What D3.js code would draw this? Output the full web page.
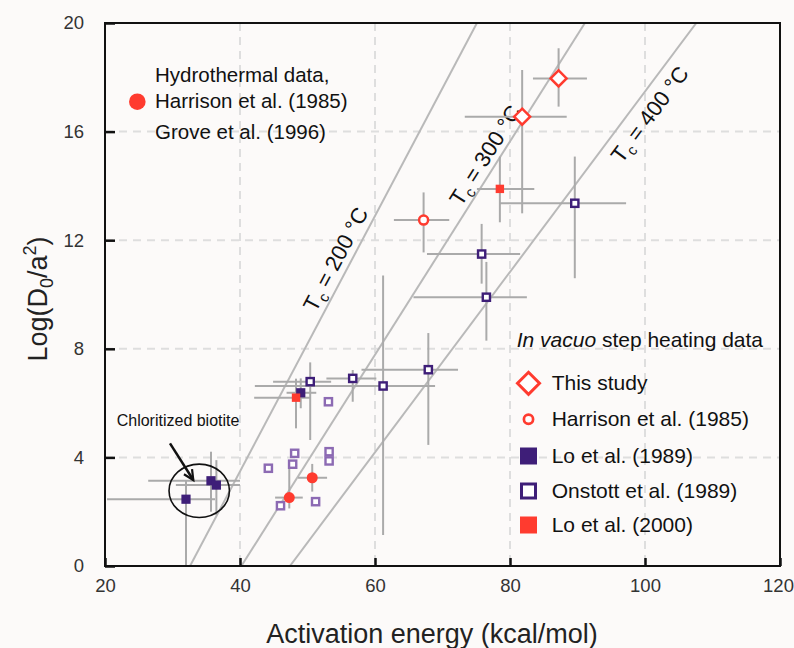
<!DOCTYPE html>
<html><head><meta charset="utf-8">
<script src="https://cdn.jsdelivr.net/npm/d3@7"></script>
<style>
html,body{margin:0;padding:0;background:#fcfaf9;}
svg{display:block;font-family:"Liberation Sans",Arial,sans-serif;}
</style></head>
<body><svg id="c" width="794" height="648"></svg>
<script>
// ---- data: [E, logD, Emin, Emax, logDmin, logDmax]
const thisStudy = [[87.2,17.96,83.4,91.4,16.92,19.07],[81.8,16.55,73.3,88.4,12.99,18.27]];
const harrisonVacuo = [[67.2,12.74,62.8,71.0,11.55,13.76]];
const lo1989 = [[32.0,2.46,20.3,36.3,0,3.17],[35.7,3.14,26.4,40.0,2.0,4.21],[36.5,2.98,30.5,40.0,1.88,3.9],[49.0,6.38,46.9,51.3,5.81,6.91]];
const onstott = [[50.4,6.79,44.9,53.5,4.64,7.5],[56.7,6.91,52.8,60.2,6.05,7.22],[61.2,6.63,42.2,68.9,1.14,10.7],[67.9,7.23,58.0,72.3,4.46,8.58],[75.8,11.49,67.7,81.5,10.4,12.6],[76.5,9.9,65.7,82.5,8.3,11.2],[89.6,13.36,78.5,97.2,10.6,15.08]];
const onstottLight = [[53.1,6.05],[48.1,4.15],[47.8,3.75],[44.2,3.6],[53.2,4.21],[53.2,3.87],[46.0,2.22],[51.2,2.37]];
const lo2000 = [[48.3,6.2,42.1,50.5,5.07,6.9],[78.5,13.89,75.1,83.6,12.66,15.08]];
const hydrothermal = [[47.3,2.52,45.2,49.3,2.12,3.68],[50.7,3.25,48.6,52.9,2.74,3.76]];
// closure temperature lines: E at logD=0 and logD=20
const tcLines = [{t:"200",e0:32.6,e1:75.1,ly:11.05,off:-7},{t:"300",e0:40.2,e1:91.1,ly:14.86,off:-6},{t:"400",e0:47.4,e1:107.6,ly:17.02,off:25}];
const xTicks = [20,40,60,80,100,120];
const yTicks = [0,4,8,12,16,20];
const xGrid = [40,60,80,100];
const yGrid = [4,8,12,16];
const legendItems = ["This study","Harrison et al. (1985)","Lo et al. (1989)","Onstott et al. (1989)","Lo et al. (2000)"];

const RED="#ff3b2f", PURP="#3e1e78", LPURP="#8c6ab3", GREY="#aaaaaa";
const svg=d3.select("#c");
const L=105,R=780,T=23,B=566;
const x=d3.scaleLinear([20,120],[L,R]);
const y=d3.scaleLinear([0,20],[B,T]);

svg.append("defs").append("clipPath").attr("id","clip").append("rect").attr("x",L).attr("y",T).attr("width",R-L).attr("height",B-T);

// grid
const g=svg.append("g");
g.selectAll(".gx").data(xGrid).join("line").attr("x1",d=>x(d)).attr("x2",d=>x(d)).attr("y1",T).attr("y2",B)
 .attr("stroke","#dedede").attr("stroke-width",2).attr("stroke-dasharray","8,6");
g.selectAll(".gy").data(yGrid).join("line").attr("y1",d=>y(d)).attr("y2",d=>y(d)).attr("x1",L).attr("x2",R)
 .attr("stroke","#dedede").attr("stroke-width",2).attr("stroke-dasharray","8,6");

// Tc lines
const tl=svg.append("g").attr("clip-path","url(#clip)");
tl.selectAll("line").data(tcLines).join("line")
 .attr("x1",d=>x(d.e0)).attr("y1",y(0)).attr("x2",d=>x(d.e1)).attr("y2",y(20))
 .attr("stroke","#b9b9b9").attr("stroke-width",2);

// Tc labels
tcLines.forEach(d=>{
  const px=x(d.e0+(d.e1-d.e0)*d.ly/20), py=y(d.ly);
  const ang=Math.atan2(y(20)-y(0), x(d.e1)-x(d.e0))*180/Math.PI;
  const t=svg.append("text").attr("transform",`translate(${px},${py}) rotate(${ang})`)
    .attr("y",d.off).attr("text-anchor","middle").attr("font-size",22).attr("fill","#111");
  t.append("tspan").text("T");
  t.append("tspan").attr("font-size",15).attr("dy",5).text("c");
  t.append("tspan").attr("dy",-5).text(" = "+d.t+" °C");
});

// error bars
const eb=svg.append("g").attr("stroke",GREY).attr("stroke-width",2).attr("clip-path","url(#clip)");
const allErr=[].concat(hydrothermal,lo1989,onstott,lo2000,harrisonVacuo,thisStudy);
allErr.forEach(d=>{
  eb.append("line").attr("x1",x(d[2])).attr("x2",x(d[3])).attr("y1",y(d[1])).attr("y2",y(d[1]));
  eb.append("line").attr("x1",x(d[0])).attr("x2",x(d[0])).attr("y1",y(d[4])).attr("y2",y(d[5]));
});

// markers
const m=svg.append("g");
m.selectAll(".ol").data(onstottLight).join("rect").attr("x",d=>x(d[0])-3.6).attr("y",d=>y(d[1])-3.6)
 .attr("width",7.2).attr("height",7.2).attr("fill","#fff").attr("stroke",LPURP).attr("stroke-width",2.4);
m.selectAll(".hy").data(hydrothermal).join("circle").attr("cx",d=>x(d[0])).attr("cy",d=>y(d[1])).attr("r",5.5).attr("fill",RED);
m.selectAll(".l89").data(lo1989).join("rect").attr("x",d=>x(d[0])-4.6).attr("y",d=>y(d[1])-4.6)
 .attr("width",9.2).attr("height",9.2).attr("fill",PURP);
m.selectAll(".on").data(onstott).join("rect").attr("x",d=>x(d[0])-3.6).attr("y",d=>y(d[1])-3.6)
 .attr("width",7.2).attr("height",7.2).attr("fill","#fff").attr("stroke",PURP).attr("stroke-width",2.4);
m.selectAll(".l00").data(lo2000).join("rect").attr("x",d=>x(d[0])-4.2).attr("y",d=>y(d[1])-4.2)
 .attr("width",8.4).attr("height",8.4).attr("fill",RED);
m.selectAll(".hv").data(harrisonVacuo).join("circle").attr("cx",d=>x(d[0])).attr("cy",d=>y(d[1])).attr("r",4.5)
 .attr("fill","#fff").attr("stroke",RED).attr("stroke-width",2.5);
m.selectAll(".ts").data(thisStudy).join("path")
 .attr("d",d=>{const cx=x(d[0]),cy=y(d[1]),s=8;return `M${cx},${cy-s}L${cx+s},${cy}L${cx},${cy+s}L${cx-s},${cy}Z`;})
 .attr("fill","#fff").attr("stroke",RED).attr("stroke-width",2.5);

// frame
svg.append("rect").attr("x",L).attr("y",T).attr("width",R-L).attr("height",B-T).attr("fill","none").attr("stroke","#111").attr("stroke-width",2);

// axes
const ax=svg.append("g").attr("transform",`translate(0,${B})`)
 .call(d3.axisBottom(x).tickValues(xTicks).tickSize(-8).tickPadding(13).tickFormat(d3.format("d")));
const ay=svg.append("g").attr("transform",`translate(${L},0)`)
 .call(d3.axisLeft(y).tickValues(yTicks).tickSize(-10).tickPadding(21).tickFormat(d3.format("d")));
[ax,ay].forEach(a=>{a.select(".domain").remove();
  a.selectAll(".tick line").attr("stroke","#111").attr("stroke-width",2.5);
  a.selectAll(".tick text").attr("font-size",18.5).attr("fill","#333").attr("font-family","Liberation Sans, Arial, sans-serif");});
ax.selectAll(".tick text").filter(d=>d===120).attr("dx",-2);

// axis titles
svg.append("text").attr("x",432).attr("y",643).attr("text-anchor","middle").attr("font-size",27).attr("fill","#222").text("Activation energy (kcal/mol)");
const yt=svg.append("text").attr("transform","translate(47,299) rotate(-90)").attr("text-anchor","middle").attr("font-size",27).attr("fill","#222");
yt.append("tspan").text("Log(D");
yt.append("tspan").attr("font-size",18).attr("dy",6).text("0");
yt.append("tspan").attr("dy",-6).text("/a");
yt.append("tspan").attr("font-size",18).attr("dy",-11).text("2");
yt.append("tspan").attr("dy",11).text(")");

// hydrothermal legend (top-left)
svg.append("circle").attr("cx",137.3).attr("cy",101.7).attr("r",8.3).attr("fill",RED);
[["Hydrothermal data,",81.7],["Harrison et al. (1985)",107.5],["Grove et al. (1996)",139.3]].forEach(([t,yy])=>
  svg.append("text").attr("x",155).attr("y",yy).attr("font-size",20.5).attr("fill","#111").text(t));

// in vacuo legend
svg.append("text").attr("x",516.7).attr("y",347).attr("font-size",21).attr("fill","#111")
 .html('<tspan font-style="italic">In vacuo</tspan> step heating data');
const ly0=[383.3,419.3,456,491,525];
legendItems.forEach((t,i)=>svg.append("text").attr("x",551.7).attr("y",ly0[i]+7).attr("font-size",21).attr("fill","#111").text(t));
const lx=528.5;
svg.append("path").attr("d",`M${lx},${ly0[0]-11}L${lx+11},${ly0[0]}L${lx},${ly0[0]+11}L${lx-11},${ly0[0]}Z`).attr("fill","#fff").attr("stroke",RED).attr("stroke-width",3);
svg.append("circle").attr("cx",lx).attr("cy",ly0[1]).attr("r",4.6).attr("fill","#fff").attr("stroke",RED).attr("stroke-width",2.7);
svg.append("rect").attr("x",lx-8.5).attr("y",ly0[2]-8.5).attr("width",17).attr("height",17).attr("fill",PURP);
svg.append("rect").attr("x",lx-7).attr("y",ly0[3]-7).attr("width",14).attr("height",14).attr("fill","#fff").attr("stroke",PURP).attr("stroke-width",3);
svg.append("rect").attr("x",lx-8.5).attr("y",ly0[4]-8.5).attr("width",17).attr("height",17).attr("fill",RED);

// chloritized annotation
svg.append("text").attr("x",116.7).attr("y",425.7).attr("font-size",16).attr("fill","#111").text("Chloritized biotite");
svg.append("ellipse").attr("cx",x(33.96)).attr("cy",y(2.77)).attr("rx",30.2).attr("ry",26.7).attr("fill","none").attr("stroke","#111").attr("stroke-width",1.6);
const ax0=170,ay0=443.3,ax1=193.3,ay1=480;
svg.append("line").attr("x1",ax0).attr("y1",ay0).attr("x2",ax1).attr("y2",ay1).attr("stroke","#111").attr("stroke-width",2.5);
(function(){const a=Math.atan2(ay1-ay0,ax1-ax0),h=11,s=0.45;
 svg.append("path").attr("d",`M${ax1-h*Math.cos(a-s)},${ay1-h*Math.sin(a-s)}L${ax1},${ay1}L${ax1-h*Math.cos(a+s)},${ay1-h*Math.sin(a+s)}`)
 .attr("fill","none").attr("stroke","#111").attr("stroke-width",2.2);})();
</script></body></html>
